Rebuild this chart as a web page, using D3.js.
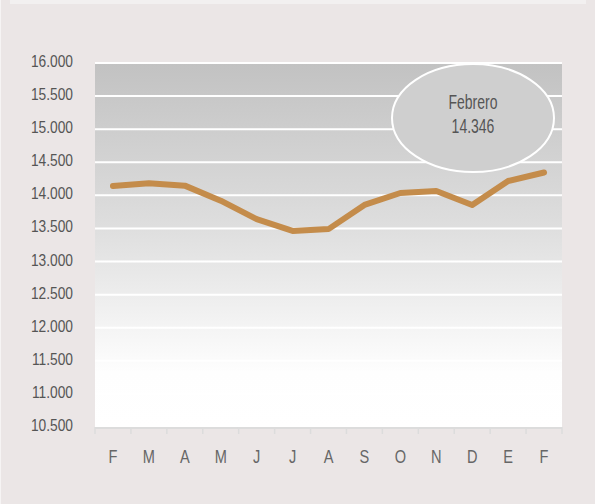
<!DOCTYPE html>
<html>
<head>
<meta charset="utf-8">
<script src="https://cdn.jsdelivr.net/npm/d3@7"></script>
<style>
	html, body { margin: 0; padding: 0; background: #ebe6e6; }
	svg { display: block; }
</style>
</head>
<body>
<svg id="chart"></svg>
<script>
// Data
const months = ["F", "M", "A", "M", "J", "J", "A", "S", "O", "N", "D", "E", "F"];
const values = [14140, 14183, 14147, 13920, 13640, 13462, 13490, 13855, 14036, 14067, 13855, 14217, 14346];
const yTicks = [10500, 11000, 11500, 12000, 12500, 13000, 13500, 14000, 14500, 15000, 15500, 16000];
const noteLines = ["Febrero", "14.346"];

const config = {
	width: 595,
	height: 504,
	margin: {top: 63, right: 33, bottom: 77, left: 95},
	font: "'Liberation Sans', Arial, sans-serif",
	squeeze: 0.81
};

const svg = d3.select("#chart")
	.attr("width", config.width)
	.attr("height", config.height);

// background
svg.append("rect").attr("width", config.width).attr("height", config.height).attr("fill", "#ebe6e6");
svg.append("rect").attr("x", 0).attr("width", 1).attr("height", config.height).attr("fill", "#f6f4f4");
svg.append("rect").attr("x", 10).attr("y", 0).attr("width", 576).attr("height", 4).attr("fill", "#f2f0f0");

const x0 = config.margin.left, x1 = config.width - config.margin.right;
const y0 = config.margin.top, y1 = config.height - config.margin.bottom;

// scales
const x = d3.scaleBand()
	.domain(d3.range(months.length))
	.range([x0, x1])
	.padding(0);

const y = d3.scaleLinear()
	.domain([10500, 16000])
	.range([y1, y0]);

// narrow text: position by transform, squeeze horizontally
function narrow(sel, fx, fy, k = config.squeeze) {
	sel.attr("x", 0).attr("y", 0)
		.attr("transform", (d, i) => `translate(${fx(d, i)}, ${fy(d, i)}) scale(${k}, 1)`);
}

// plot gradient
const defs = svg.append("defs");
const grad = defs.append("linearGradient")
	.attr("id", "bg")
	.attr("x1", 0).attr("y1", 0).attr("x2", 0).attr("y2", 1);
grad.append("stop").attr("offset", "0%").attr("stop-color", "#c2c2c2");
grad.append("stop").attr("offset", "45%").attr("stop-color", "#dedede");
grad.append("stop").attr("offset", "85%").attr("stop-color", "#fefefe");
grad.append("stop").attr("offset", "100%").attr("stop-color", "#ffffff");

svg.append("rect")
	.attr("x", x0).attr("y", y0)
	.attr("width", x1 - x0).attr("height", y1 - y0)
	.attr("fill", "url(#bg)");

// grid lines
svg.append("g")
	.selectAll("line")
	.data(yTicks.filter(d => d > 10500))
	.join("line")
	.attr("x1", x0).attr("x2", x1)
	.attr("y1", d => y(d)).attr("y2", d => y(d))
	.attr("stroke", "#ffffff")
	.attr("stroke-width", 2);

// Y Axis
const fmt = d => d3.format(",")(d).replace(",", ".");
svg.append("g")
	.selectAll("text")
	.data(yTicks)
	.join("text")
	.attr("text-anchor", "end")
	.attr("fill", "#555")
	.attr("font-size", "17px")
	.attr("font-family", config.font)
	.text(fmt)
	.call(narrow, () => x0 - 22, d => y(d) + 4);

// X Axis
svg.append("line")
	.attr("x1", x0).attr("x2", x1)
	.attr("y1", y1 + 1).attr("y2", y1 + 1)
	.attr("stroke", "#dcdcdc").attr("stroke-width", 2);

svg.append("g")
	.selectAll("line")
	.data(d3.range(months.length + 1))
	.join("line")
	.attr("x1", i => x0 + i * x.bandwidth())
	.attr("x2", i => x0 + i * x.bandwidth())
	.attr("y1", y1).attr("y2", y1 + 7)
	.attr("stroke", "#dcdcdc").attr("stroke-width", 1.5);

svg.append("g")
	.selectAll("text")
	.data(months)
	.join("text")
	.attr("text-anchor", "middle")
	.attr("fill", "#666")
	.attr("font-size", "18px")
	.attr("font-family", config.font)
	.text(d => d)
	.call(narrow, (d, i) => x(i) + x.bandwidth() / 2, () => y1 + 36);

// Line
const line = d3.line()
	.x((d, i) => x(i) + x.bandwidth() / 2)
	.y(d => y(d));

svg.append("path")
	.datum(values)
	.attr("fill", "none")
	.attr("stroke", "#c48c4b")
	.attr("stroke-width", 6)
	.attr("stroke-linejoin", "round")
	.attr("stroke-linecap", "round")
	.attr("d", line);

// Note bubble
const note = svg.append("g").attr("transform", "translate(473, 118)");
note.append("ellipse")
	.attr("rx", 81).attr("ry", 54)
	.attr("fill", "#cfcfcf")
	.attr("stroke", "#ffffff")
	.attr("stroke-width", 2);
note.selectAll("text")
	.data(noteLines)
	.join("text")
	.attr("text-anchor", "middle")
	.attr("fill", "#555")
	.attr("font-size", "20px")
	.attr("font-family", config.font)
	.text(d => d)
	.call(narrow, () => 0, (d, i) => -9 + i * 24, 0.7);
</script>
</body>
</html>
